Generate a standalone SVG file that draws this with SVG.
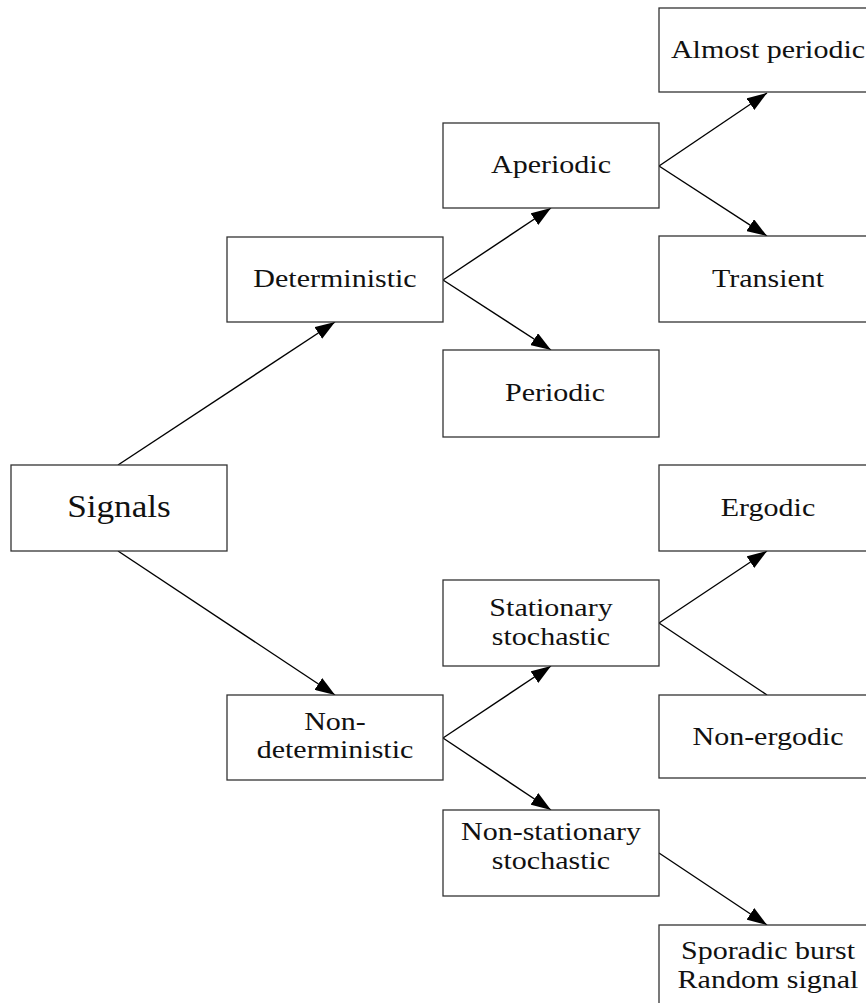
<svg xmlns="http://www.w3.org/2000/svg" width="866" height="1003" viewBox="0 0 866 1003">
<style>
rect{fill:#fff;stroke:#333;stroke-width:1.3}
text{font-family:"Liberation Serif","Times New Roman",serif;font-size:25px;fill:#111;text-anchor:middle}
.big{font-size:32px}
line{stroke:#000;stroke-width:1.4}
</style>
<defs>
<marker id="ah" viewBox="0 0 20 14" refX="20" refY="7" markerWidth="20" markerHeight="14" markerUnits="userSpaceOnUse" orient="auto">
<path d="M0,0 L20,7 L0,14 z" fill="#000"/>
</marker>
</defs>
<g id="connectors">
<line x1="118" y1="465" x2="335" y2="322" marker-end="url(#ah)"/>
<line x1="118" y1="551" x2="335" y2="695" marker-end="url(#ah)"/>
<line x1="443" y1="280" x2="551" y2="208" marker-end="url(#ah)"/>
<line x1="443" y1="280" x2="551" y2="350" marker-end="url(#ah)"/>
<line x1="659" y1="166" x2="767" y2="93" marker-end="url(#ah)"/>
<line x1="659" y1="166" x2="767" y2="236" marker-end="url(#ah)"/>
<line x1="443" y1="738" x2="551" y2="666" marker-end="url(#ah)"/>
<line x1="443" y1="738" x2="551" y2="810" marker-end="url(#ah)"/>
<line x1="659" y1="623" x2="767" y2="551" marker-end="url(#ah)"/>
<line x1="659" y1="623" x2="767" y2="695"/>
<line x1="659" y1="853" x2="767" y2="925" marker-end="url(#ah)"/>
</g>
<g id="signals"><rect x="11" y="465" width="216" height="86"/><text class="big" transform="translate(119,517) scale(1.1,1)">Signals</text></g>
<g id="deterministic"><rect x="227" y="237" width="216" height="85"/><text transform="translate(335,287) scale(1.2,1)">Deterministic</text></g>
<g id="nondeterministic"><rect x="227" y="695" width="216" height="85"/><text transform="translate(335,730) scale(1.2,1)">Non-</text><text transform="translate(335,758) scale(1.2,1)">deterministic</text></g>
<g id="aperiodic"><rect x="443" y="123" width="216" height="85"/><text transform="translate(551,173) scale(1.2,1)">Aperiodic</text></g>
<g id="periodic"><rect x="443" y="350" width="216" height="87"/><text transform="translate(555,401) scale(1.2,1)">Periodic</text></g>
<g id="stationary"><rect x="443" y="580" width="216" height="86"/><text transform="translate(551,616) scale(1.2,1)">Stationary</text><text transform="translate(551,645) scale(1.2,1)">stochastic</text></g>
<g id="nonstationary"><rect x="443" y="810" width="216" height="86"/><text transform="translate(551,840) scale(1.2,1)">Non-stationary</text><text transform="translate(551,869) scale(1.2,1)">stochastic</text></g>
<g id="almostperiodic"><rect x="659" y="8" width="216" height="84"/><text transform="translate(768,58) scale(1.2,1)">Almost periodic</text></g>
<g id="transient"><rect x="659" y="236" width="216" height="86"/><text transform="translate(768,287) scale(1.2,1)">Transient</text></g>
<g id="ergodic"><rect x="659" y="465" width="216" height="86"/><text transform="translate(768,516) scale(1.2,1)">Ergodic</text></g>
<g id="nonergodic"><rect x="659" y="695" width="216" height="83"/><text transform="translate(768,745) scale(1.2,1)">Non-ergodic</text></g>
<g id="sporadic"><rect x="659" y="925" width="216" height="90"/><text transform="translate(768,959) scale(1.2,1)">Sporadic burst</text><text transform="translate(768,988) scale(1.2,1)">Random signal</text></g>
</svg>
